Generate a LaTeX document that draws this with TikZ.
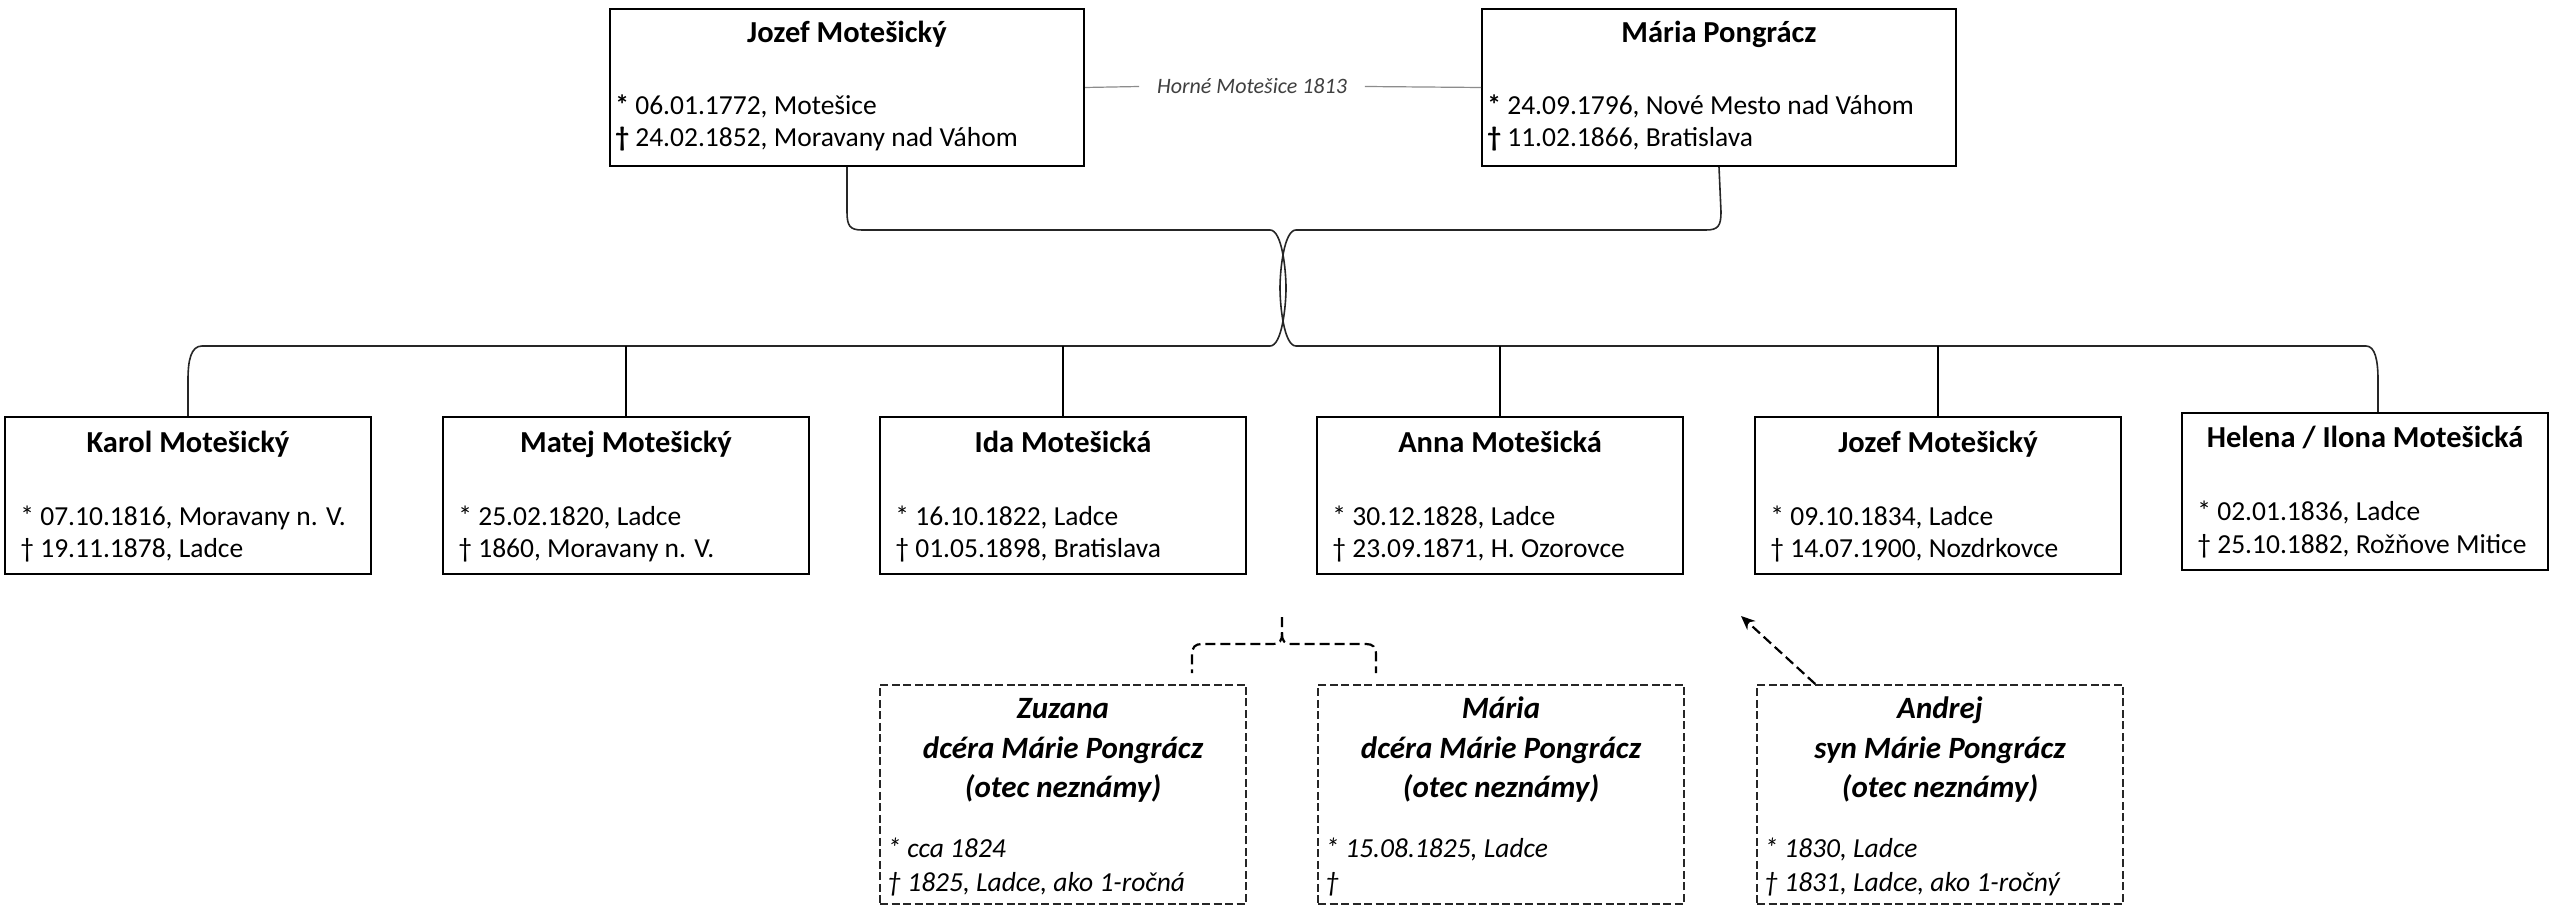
\documentclass[tikz,border=0pt]{standalone}
\usepackage{fontspec}
\setmainfont{Carlito}
\usetikzlibrary{arrows.meta}
\tikzset{
  pbox/.style={draw=black, line width=1pt, inner sep=0pt, minimum width=237pt, minimum height=78.5pt, anchor=north},
  cbox/.style={draw=black, line width=1pt, inner sep=0pt, minimum width=183pt, minimum height=78.5pt, anchor=north},
  dbox/.style={draw=black!85, line width=0.75pt, dash pattern=on 4pt off 1.75pt, inner sep=0pt, minimum width=183pt, minimum height=109.5pt, anchor=north},
  nm/.style={inner sep=0pt, anchor=base, font=\fontsize{15.25}{18}\selectfont\bfseries},
  tx/.style={inner sep=0pt, anchor=base west, font=\fontsize{13.75}{16}\selectfont},
  dnm/.style={inner sep=0pt, anchor=base, font=\fontsize{15.5}{18}\selectfont\bfseries\itshape},
  dtx/.style={inner sep=0pt, anchor=base west, font=\fontsize{13.75}{16}\selectfont\itshape},
  conn/.style={line width=0.8pt, draw=black!85},
  stem/.style={line width=1pt, draw=black},
  dconn/.style={line width=1.1pt, draw=black, dash pattern=on 5pt off 2.5pt},
  marr/.style={line width=0.6pt, draw=black!45},
  mtext/.style={inner xsep=8.75pt, inner ysep=0pt, font=\fontsize{11}{13}\selectfont\itshape, text=black!75},
}
\newcommand\childbox[6]{%
  \node[cbox] (#1) at (#2,#3) {};
  \node[nm] (#1-n) at (#2,#3+36) {#4};
  \node[tx] (#1-b) at (#2-168,#3+109) {#5};
  \node[tx] (#1-d) at (#2-168,#3+141) {#6};}
\newcommand\dashchild[7]{%
  \node[dbox] (#1) at (#2,684) {};
  \node[dnm] (#1-a) at (#2,718) {#3};
  \node[dnm] (#1-r) at (#2,758) {#4};
  \node[dnm] (#1-o) at (#2,797) {#5};
  \node[dtx] (#1-b) at (#2-176,857) {#6};
  \node[dtx] (#1-d) at (#2-176,891) {#7};}
\begin{document}
\begin{tikzpicture}[x=0.5pt,y=-0.5pt]
\fill[white] (0,0) rectangle (2549,919);
\useasboundingbox (0,0) rectangle (2549,919);

% parents
\node[pbox] (jozef) at (847,8) {};
\node[nm] (jozef-n) at (847,43) {Jozef Motešický};
\node[tx] (jozef-b) at (615,115) {\textbf{*} 06.01.1772, Motešice};
\node[tx] (jozef-d) at (615,147) {\textbf{†} 24.02.1852, Moravany nad Váhom};

\node[pbox] (maria) at (1719,8) {};
\node[nm] (maria-n) at (1719,43) {Mária Pongrácz};
\node[tx] (maria-b) at (1487,115) {\textbf{*} 24.09.1796, Nové Mesto nad Váhom};
\node[tx] (maria-d) at (1487,147) {\textbf{†} 11.02.1866, Bratislava};

\node[mtext] (mtxt) at (1252,86.5) {Horné Motešice 1813};
\draw[marr] (jozef.east) -- (mtxt.west);
\draw[marr] (mtxt.east) -- (maria.west);

% children
\childbox{karol}{188}{416}{Karol Motešický}{* 07.10.1816, Moravany n. V.}{† 19.11.1878, Ladce}
\childbox{matej}{626}{416}{Matej Motešický}{* 25.02.1820, Ladce}{† 1860, Moravany n. V.}
\childbox{ida}{1063}{416}{Ida Motešická}{* 16.10.1822, Ladce}{† 01.05.1898, Bratislava}
\childbox{anna}{1500}{416}{Anna Motešická}{* 30.12.1828, Ladce}{† 23.09.1871, H. Ozorovce}
\childbox{jozefml}{1938}{416}{Jozef Motešický}{* 09.10.1834, Ladce}{† 14.07.1900, Nozdrkovce}
\childbox{helena}{2365}{412}{Helena / Ilona Motešická}{* 02.01.1836, Ladce}{† 25.10.1882, Rožňove Mitice}

% family connector (two braces)
\coordinate (bar) at (0,346);
\draw[conn] (jozef.south) -- (847,212) .. controls (847,226) and (850,230) .. (862,230)
  -- (1270,230) .. controls (1282,230) and (1286,270) .. (1286,288)
  .. controls (1286,306) and (1282,346) .. (1270,346)
  -- (202,346) .. controls (191,346) and (188,360) .. (188,380) -- (karol.north);
\draw[conn] (maria.south) -- (1721,212) .. controls (1721,226) and (1718,230) .. (1706,230)
  -- (1296,230) .. controls (1284,230) and (1280,270) .. (1280,288)
  .. controls (1280,306) and (1284,346) .. (1296,346)
  -- (2366,346) .. controls (2375,346) and (2378,360) .. (2378,380) -- ([xshift=6.5pt]helena.north);
\foreach \c in {matej,ida,anna,jozefml}
  \draw[stem] (\c.north) -- (\c.north |- bar);

% illegitimate children
\dashchild{zuzana}{1063}{Zuzana}{dcéra Márie Pongrácz}{(otec neznámy)}{* cca 1824}{† 1825, Ladce, ako 1-ročná}
\dashchild{mariad}{1501}{Mária}{dcéra Márie Pongrácz}{(otec neznámy)}{* 15.08.1825, Ladce}{†}
\dashchild{andrej}{1940}{Andrej}{syn Márie Pongrácz}{(otec neznámy)}{* 1830, Ladce}{† 1831, Ladce, ako 1-ročný}

\coordinate (btip) at (1282,617);
\coordinate (zleg) at (1192,673);
\coordinate (mleg) at (1376,673);
\draw[dconn] (btip) -- (1282,633) .. controls (1282,641) and (1280,644) .. (1272,644)
  -- (1202,644) .. controls (1195,644) and (1192,647) .. (1192,655) -- (zleg);
\draw[dconn] (btip) ++(0,16) .. controls (1282,641) and (1284,644) .. (1292,644)
  -- (1366,644) .. controls (1373,644) and (1376,647) .. (1376,655) -- (mleg);

\coordinate (atip) at (1741,616);
\draw[dconn, -{Stealth[length=7pt,width=6pt]}] (andrej.north west) ++(59,0) -- (atip);
\end{tikzpicture}
\end{document}
